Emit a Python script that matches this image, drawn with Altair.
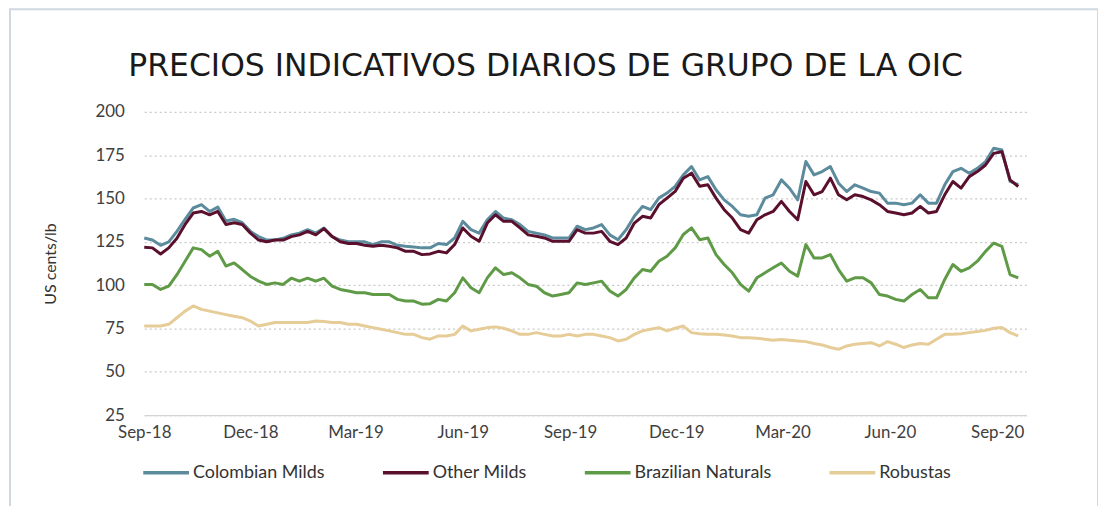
import altair as alt
import pandas as pd

title_text = "PRECIOS INDICATIVOS DIARIOS DE GRUPO DE LA OIC"
series_names = ["Colombian Milds", "Other Milds", "Brazilian Naturals", "Robustas"]
series_colors = ["#5b8b9c", "#5a0f2c", "#5f9a46", "#e6cc97"]

start_date = "2018-09-01"
n_points = 108

colombian = [127.2, 126, 123, 125, 131, 138, 144.5, 146.4, 142.5, 145, 137, 138, 136, 131, 128, 126, 126, 127, 129, 130, 132, 130, 133, 128, 126, 125, 125, 125, 123.4, 125, 125, 123, 122.4, 122, 121.5, 121.5, 124,
             123.4, 127.2, 136.8, 132, 130, 137.7, 142.5, 138.7, 137.7, 134.9, 131, 130, 129, 127.2, 127.2, 127.2, 134, 132, 133, 134.9, 129, 126.2, 132, 139.7, 145.4, 143.5, 150.2, 153.1, 157, 163.6, 168.4, 160.7, 162.6, 155, 149.2, 145.4, 140.6,
             139.7, 140.6, 150.2, 152.1, 160.7, 155.9, 149.2, 171.3, 163.6, 165.5, 168.4, 158.8, 154, 157.9, 155.9, 154, 153.1, 147.3, 147.3, 146.4, 147.3, 152.1, 147.3, 147.3, 157.9, 165.5, 167.4, 164.6, 167.4, 171.3, 179, 178, 159.8, 158]
other_milds = [121.8, 121.5, 118, 121.5, 127, 135, 141.6, 142.5, 140.6, 142.5, 135, 136, 135, 130, 126, 125, 126, 126, 128, 129, 131, 129, 132.6, 128, 125, 124, 124, 123, 122.4, 123, 122.4, 121.5, 119.5, 119.5, 117.6, 118, 119.5,
               118.6, 123.4, 133, 128.2, 125.3, 135.8, 140.6, 136.8, 136.8, 133, 129, 128.2, 127.2, 125.3, 125.3, 125.3, 132, 130, 130, 131, 125.3, 123.4, 127.2, 135.8, 139.7, 138.7, 146.4, 150.2, 154.1, 161.7, 164.6, 157, 157.9, 150.2, 143.5, 138.7, 132,
               130, 137.7, 140.6, 142.5, 148.3, 142.5, 137.7, 159.8, 152.1, 154, 161.7, 152.1, 149.2, 152.1, 151.1, 149.2, 146.4, 142.5, 141.6, 140.6, 141.6, 145.4, 141.6, 142.5, 152.1, 159.8, 156, 162.6, 165.5, 169.3, 176, 177, 160.7, 156.9]
brazilian = [100.4, 100.4, 97.5, 99.4, 106, 113.8, 121.5, 120.5, 116.7, 119.5, 111, 112.8, 109, 105, 102.3, 100.4, 101.3, 100.4, 104, 102.3, 104, 102.3, 104, 99.4, 97.5, 96.6, 95.6, 95.6, 94.6, 94.6, 94.6, 91.8, 90.8, 90.8, 89, 89.3, 91.8,
             90.8, 95.6, 104.2, 98.5, 95.6, 104.2, 110, 106.1, 107.1, 104.2, 100.4, 99.4, 95.6, 93.7, 94.6, 95.6, 101.3, 100.4, 101.3, 102.3, 96.6, 93.7, 97.5, 104.2, 109, 108, 113.8, 116.7, 121.5, 129.2, 133, 126.2, 127.2, 117.6, 111.9, 107.1, 100.4,
             96.5, 104.2, 107.1, 110, 112.8, 108, 105.2, 123.4, 115.7, 115.7, 117.6, 109, 102.3, 104.2, 104.2, 101.3, 94.6, 93.7, 91.8, 90.8, 94.6, 97.5, 92.7, 92.7, 103.3, 111.9, 108, 110, 113.8, 119.5, 124.3, 122.4, 106.1, 104.2]
robustas = [76.4, 76.4, 76.4, 77.4, 81.2, 85, 88, 86, 85, 84, 83, 82, 81.2, 79.3, 76.4, 77.4, 78.4, 78.4, 78.4, 78.4, 78.4, 79.3, 79, 78.4, 78.4, 77.4, 77.4, 76.4, 75.5, 74.5, 73.6, 72.6, 71.6, 71.6, 69.7, 68.8, 70.7,
            70.7, 71.6, 76.4, 73.6, 74.5, 75.5, 75.9, 75.1, 73.6, 71.6, 71.6, 72.6, 71.6, 70.7, 70.7, 71.6, 70.7, 71.6, 71.6, 70.7, 69.7, 67.8, 68.8, 71.6, 73.6, 74.5, 75.5, 73.6, 75.1, 76.4, 72.6, 72, 71.6, 71.6, 71.2, 70.7, 69.7,
            69.7, 69.3, 68.8, 68.2, 68.6, 68.2, 67.8, 67.4, 66.3, 65.5, 64, 63, 64.9, 65.9, 66.3, 66.8, 64.9, 67.4, 65.9, 64, 65.5, 66.3, 65.9, 68.8, 71.6, 71.6, 72, 72.6, 73.2, 73.9, 75.1, 75.5, 72.6, 70.7]

y_ticks = [25, 50, 75, 100, 125, 150, 175, 200]
x_tick_dates = [(2018, 9), (2018, 12), (2019, 3), (2019, 6), (2019, 9), (2019, 12), (2020, 3), (2020, 6), (2020, 9)]

dates = pd.date_range(start_date, periods=n_points, freq="7D")
frames = []
for name, vals in zip(series_names, [colombian, other_milds, brazilian, robustas]):
    frames.append(pd.DataFrame({"date": dates, "value": vals, "series": name}))
df = pd.concat(frames, ignore_index=True)

label_font = "Lato"

lines = alt.Chart(df).mark_line(strokeWidth=3, strokeJoin="round").encode(
    x=alt.X("date:T",
            scale=alt.Scale(domain=[alt.DateTime(year=2018, month=9, date=1),
                                    alt.DateTime(year=2020, month=9, date=26)]),
            axis=alt.Axis(values=[alt.DateTime(year=y, month=m, date=1) for y, m in x_tick_dates],
                          format="%b-%y", title=None, grid=False, ticks=False,
                          domainColor="#d4d4d4", domainWidth=1.5,
                          labelFont=label_font, labelFontSize=17, labelColor="#404040",
                          labelPadding=9, labelOverlap=False, labelFlush=False)),
    y=alt.Y("value:Q",
            scale=alt.Scale(domain=[25, 200], nice=False, zero=False),
            axis=alt.Axis(values=y_ticks, title="US cents/lb", ticks=False, domain=False,
                          grid=True, gridColor="#c9c9c9", gridDash=[2, 3], gridWidth=1.2,
                          labelFont=label_font, labelFontSize=17, labelColor="#404040",
                          labelPadding=20, titleFont=label_font, titleFontSize=16,
                          titleFontWeight="normal", titleColor="#333333", titlePadding=37)),
    color=alt.Color("series:N",
                    scale=alt.Scale(domain=series_names, range=series_colors),
                    legend=alt.Legend(title=None, orient="none", direction="horizontal",
                                      columns=4, legendX=-3, legendY=338,
                                      symbolType="stroke", symbolSize=2116, symbolStrokeWidth=3.5,
                                      labelFont=label_font, labelFontSize=18, labelColor="#333333",
                                      labelOffset=2, columnPadding=51)),
    order=alt.Order("date:T"),
)

one_row = pd.DataFrame({"k": [0]})
frame = alt.Chart(one_row).mark_rect(filled=False, stroke="#cfd8e1", strokeWidth=2).encode(
    x=alt.value(-135), x2=alt.value(959), y=alt.value(-103), y2=alt.value(430)
)
title = alt.Chart(one_row).mark_text(text=title_text, font="DejaVu Sans", fontSize=31.6,
                                     fontWeight="normal", color="#1a1a1a",
                                     align="left", baseline="alphabetic").encode(
    x=alt.value(-16), y=alt.value(-36)
)

chart = alt.layer(frame, title, lines).properties(
    width=887, height=305,
    autosize=alt.AutoSizeParams(type="none"),
    padding={"left": 137, "top": 103, "right": 72, "bottom": 90},
    background="white",
).configure_view(stroke=None)

chart.save("out.html", embed_options={"renderer": "svg", "actions": False})
